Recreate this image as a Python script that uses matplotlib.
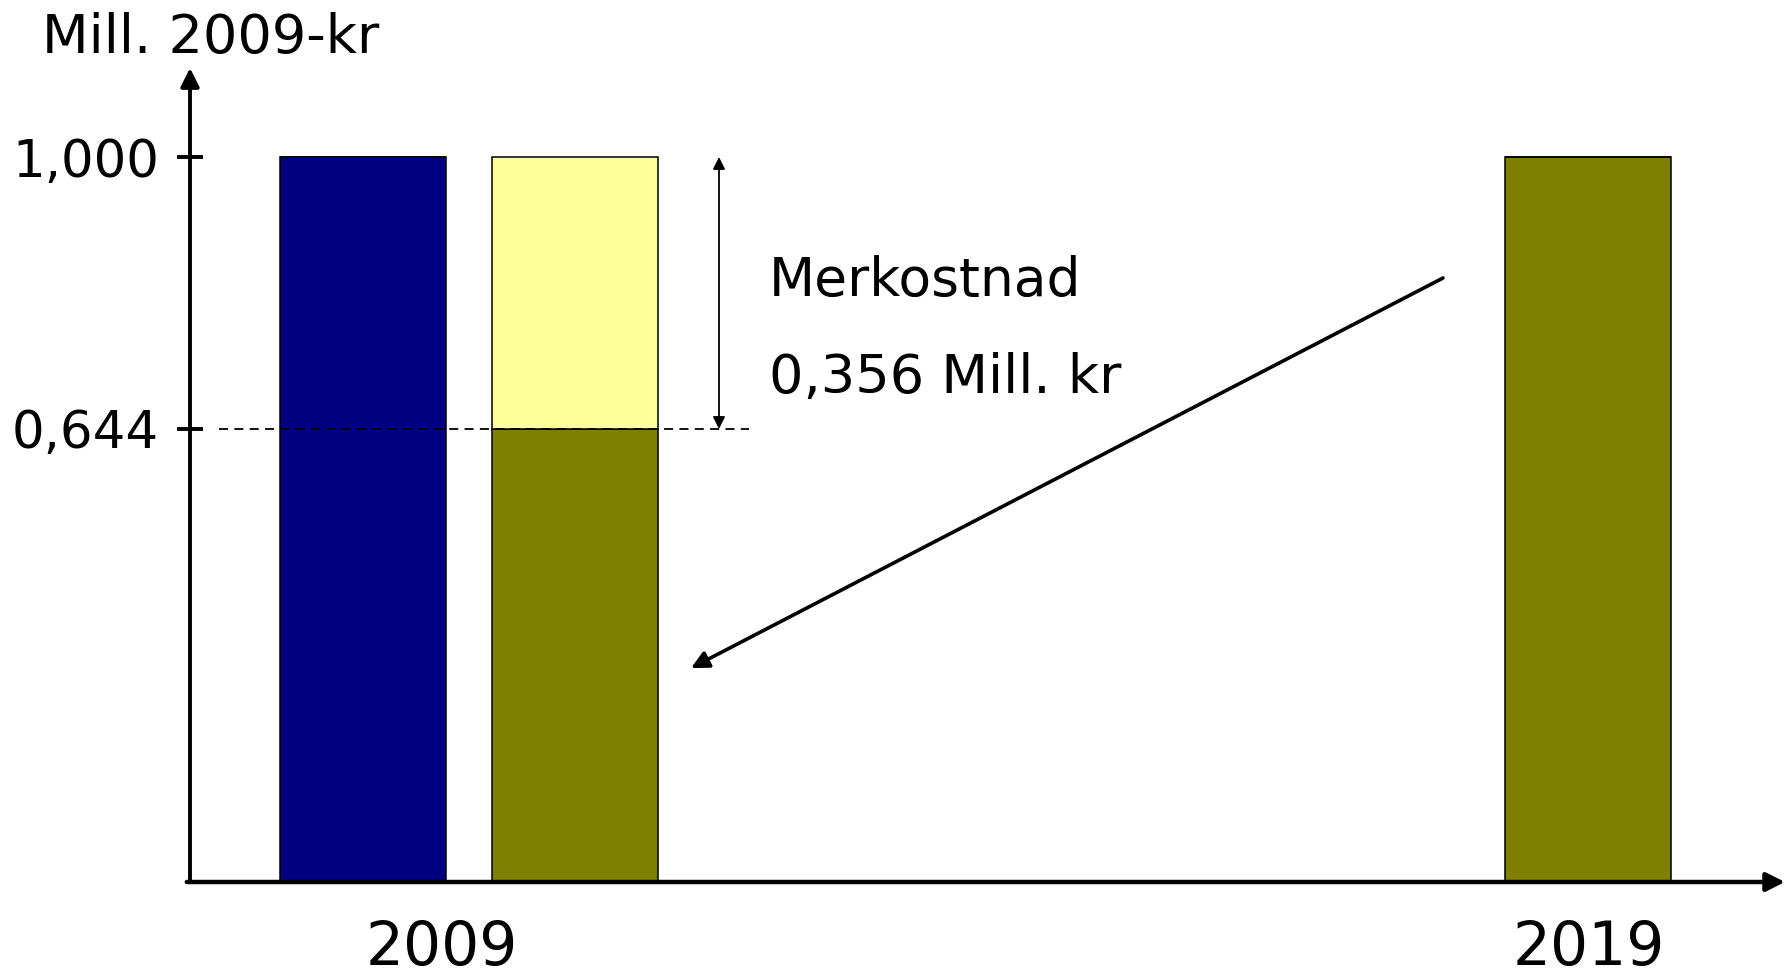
import matplotlib
matplotlib.use("Agg")
import matplotlib.pyplot as plt

# ---- data ----
year_labels = ["2009", "2019"]
bar_names = ["2009 kostnad", "2009 nåverdi", "2019 kostnad"]
bar_totals = [1.000, 1.000, 1.000]
bar_lower = [1.000, 0.644, 1.000]   # olive/blue part
bar_upper = [0.0, 0.356, 0.0]       # yellow "merkostnad" part
y_tick_values = [0.644, 1.000]
y_tick_labels = ["0,644", "1,000"]
y_label = "Mill. 2009-kr"
note_lines = ["Merkostnad", "0,356 Mill. kr"]

# ---- style / layout ----
W, H, DPI = 1785, 975, 100
plt.rcParams['font.family'] = ['DejaVu Sans']
fig = plt.figure(figsize=(W / DPI, H / DPI), dpi=DPI)
ax_left, ax_right, ax_bottom_px, ax_top_px = 190, 1785, 882, 68
ax = fig.add_axes([ax_left / W, 1 - ax_bottom_px / H,
                   (ax_right - ax_left) / W, (ax_bottom_px - ax_top_px) / H])

ax.set_xlim(0, ax_right - ax_left)
ax.set_ylim(0.051, 1.1165)

bar_x = [173, 385, 1398]
bar_w = 166
lower_colors = ["#000080", "#808000", "#808000"]
ax.bar(bar_x, bar_lower, width=bar_w, color=lower_colors,
       edgecolor="black", linewidth=1.1, zorder=2)
ax.bar(bar_x, bar_upper, bottom=bar_lower, width=bar_w, color="#FFFF99",
       edgecolor="black", linewidth=1.1, zorder=2)

# dashed reference line
ax.plot([29, 559], [y_tick_values[0]] * 2, linestyle=(0, (5, 3.5)),
        color="black", linewidth=1.3, zorder=3)

# spines -> arrows
for s in ax.spines.values():
    s.set_visible(False)
ax.annotate("", xy=(0, 1), xytext=(0, 0), xycoords="axes fraction",
            arrowprops=dict(arrowstyle="-|>", lw=2.8, color="black",
                            mutation_scale=28, shrinkA=0, shrinkB=0),
            annotation_clip=False)
ax.annotate("", xy=(1.0, 0), xytext=(-0.002, 0), xycoords="axes fraction",
            arrowprops=dict(arrowstyle="-|>", lw=3.2, color="black",
                            mutation_scale=28, shrinkA=0, shrinkB=0),
            annotation_clip=False)

# ticks
ax.set_yticks(y_tick_values)
ax.set_yticklabels(y_tick_labels, fontsize=37)
ax.tick_params(axis="y", direction="inout", length=19, width=2.8, pad=13)
ax.set_xticks([252, 1399])
ax.set_xticklabels(year_labels, fontsize=43)
ax.tick_params(axis="x", length=0, pad=27)

# y label
fig.text(42 / W, 1 - 53 / H, y_label, fontsize=39, va="baseline", ha="left")

# double arrow
ax.annotate("", xy=(529, bar_totals[1]), xytext=(529, bar_lower[1]),
            arrowprops=dict(arrowstyle="<|-|>", lw=1.3, color="black",
                            mutation_scale=18, shrinkA=0, shrinkB=0))
ax.text(579, 0.818, note_lines[0], fontsize=38.5, va="baseline", ha="left")
ax.text(579, 0.691, note_lines[1], fontsize=39, va="baseline", ha="left")

# diagonal arrow
ax.annotate("", xy=(501, 0.331), xytext=(1253, 0.8416),
            arrowprops=dict(arrowstyle="-|>", lw=2.6, color="black",
                            mutation_scale=26, shrinkA=0, shrinkB=0))

fig.savefig("out.png", dpi=DPI)
